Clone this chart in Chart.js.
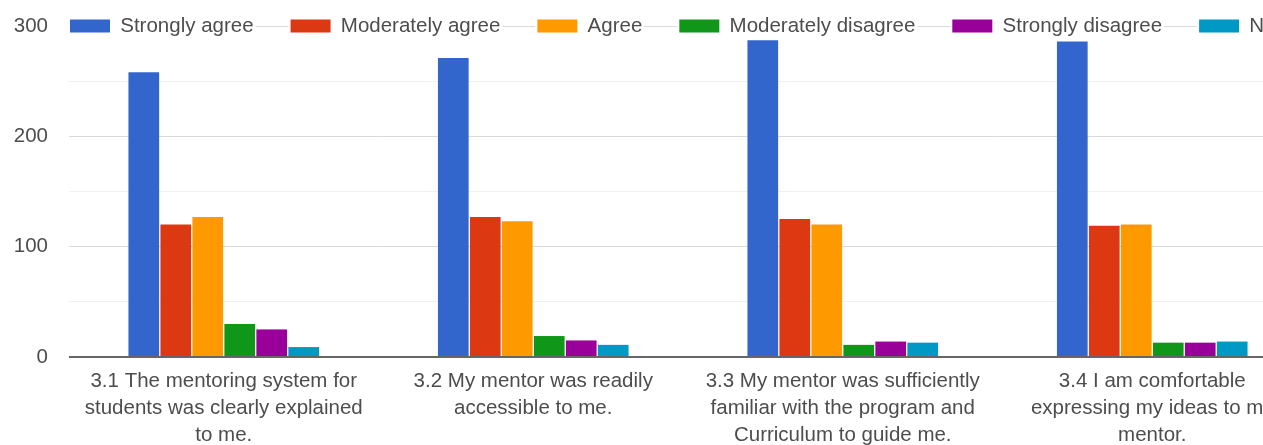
<!DOCTYPE html>
<html>
<head>
<meta charset="utf-8">
<script src="https://cdn.jsdelivr.net/npm/chart.js@4/dist/chart.umd.min.js"></script>
<style>
  html, body { margin: 0; padding: 0; background: #fff; }
  #crop { width: 1263px; height: 445px; overflow: hidden; }
  #wrap { width: 1330px; height: 445px; position: relative; }
</style>
</head>
<body>
<div id="crop"><div id="wrap"><canvas id="chart"></canvas></div></div>
<script>
const questions = [
  ['3.1 The mentoring system for', 'students was clearly explained', 'to me.'],
  ['3.2 My mentor was readily', 'accessible to me.'],
  ['3.3 My mentor was sufficiently', 'familiar with the program and', 'Curriculum to guide me.'],
  ['3.4 I am comfortable', 'expressing my ideas to my', 'mentor.']
];
const answers = ['Strongly agree', 'Moderately agree', 'Agree', 'Moderately disagree', 'Strongly disagree', 'Neutral'];

const stronglyAgree = [258, 271, 287, 286];
const moderatelyAgree = [120, 127, 125, 119];
const agree = [127, 123, 120, 120];
const moderatelyDisagree = [30, 19, 11, 13];
const stronglyDisagree = [25, 15, 14, 13];
const neutral = [9, 11, 13, 14];

const yTicks = [0, 100, 200, 300];

const colors = ['#3366cc', '#dc3912', '#ff9900', '#109618', '#990099', '#0099c6'];
const series = [stronglyAgree, moderatelyAgree, agree, moderatelyDisagree, stronglyDisagree, neutral];

const FONT = 'Liberation Sans, Arial, sans-serif';
const SIZE = 20.5;
const LEGEND_PAD = 37;

// legend sits on the top gridline, like the original
const legendOnTopLine = {
  id: 'legendOnTopLine',
  beforeLayout(chart) {
    const lg = chart.legend;
    if (lg && !lg._patched) {
      const fit = lg.fit;
      lg.fit = function () { fit.call(this); this.height = 0; };
      const draw = lg.draw;
      lg.draw = function () {
        const c = this.ctx;
        c.save();
        c.fillStyle = '#fff';
        (this.legendHitBoxes || []).forEach(b => c.fillRect(b.left - 2, b.top, b.width + 4, b.height));
        c.restore();
        draw.call(this);
      };
      lg._patched = true;
    }
  },
  afterLayout(chart) {
    const lg = chart.legend;
    lg.update(3000, 200, { left: 0, top: 0, right: 0, bottom: 0 });
    const yTop = chart.scales.y.getPixelForValue(yTicks[yTicks.length - 1]);
    lg.left = chart.chartArea.left + 1 - LEGEND_PAD;
    lg.right = lg.left + 3000;
    lg.top = yTop - LEGEND_PAD - SIZE / 2;
    lg.bottom = lg.top + 2 * LEGEND_PAD + SIZE;
  }
};

const ctx = document.getElementById('chart').getContext('2d');
new Chart(ctx, {
  type: 'bar',
  data: {
    labels: questions,
    datasets: answers.map((name, i) => ({
      label: name,
      data: series[i],
      backgroundColor: colors[i],
      borderWidth: 0,
      categoryPercentage: 0.62,
      barPercentage: 0.96
    }))
  },
  options: {
    responsive: true,
    maintainAspectRatio: false,
    animation: false,
    layout: { padding: { top: 26, right: 23, left: 0, bottom: 0 } },
    plugins: {
      tooltip: { enabled: false },
      legend: {
        position: 'top',
        align: 'start',
        labels: {
          boxWidth: 40,
          boxHeight: 13,
          padding: LEGEND_PAD,
          color: '#4d4d4d',
          font: { family: FONT, size: SIZE }
        }
      }
    },
    scales: {
      x: {
        grid: { display: false, drawTicks: false },
        border: { display: false },
        afterFit(scale) { scale.height = 88; },
        ticks: {
          autoSkip: false,
          maxRotation: 0,
          padding: 11,
          color: '#4d4d4d',
          font: { family: FONT, size: SIZE, lineHeight: 1.32 }
        }
      },
      y: {
        min: 0,
        max: 300,
        afterFit(scale) {
          scale.width = 69;
          scale.paddingTop = 0;
          scale.paddingBottom = 0;
        },
        border: { display: false },
        grid: {
          drawTicks: false,
          color: c => c.tick.value === 0 ? '#666' : (c.tick.value % 100 ? '#f0f0f0' : '#dadada'),
          lineWidth: c => c.tick.value === 0 ? 2 : 1
        },
        ticks: {
          stepSize: 50,
          padding: 21,
          color: '#4d4d4d',
          font: { family: FONT, size: SIZE },
          callback: v => yTicks.includes(v) ? v : ''
        }
      }
    }
  },
  plugins: [legendOnTopLine]
});
</script>
</body>
</html>
